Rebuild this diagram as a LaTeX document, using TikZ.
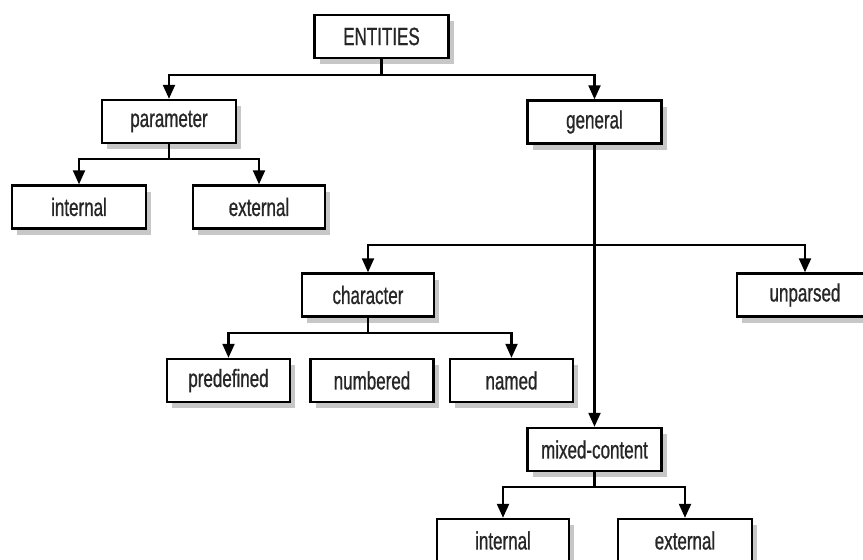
\documentclass[tikz,border=0pt]{standalone}
\usepackage{fontspec}
\setmainfont[FakeStretch=0.68, FakeBold=0.8]{Liberation Sans}
\usetikzlibrary{arrows.meta}
\usetikzlibrary{shadows}

\begin{document}
\begin{tikzpicture}[x=1pt, y=-1pt, ->, >={Triangle[length=14pt, width=12pt]}, line width=2.2pt,
  entbox/.style={rectangle, draw, fill=white, line width=2.4pt, minimum height=43pt, minimum width=134pt, inner sep=0pt,
    drop shadow={shadow xshift=5pt, shadow yshift=-6pt, fill=black, opacity=0.22}},
  smallbox/.style={entbox, minimum width=123pt},
  every node/.style={font=\fontsize{25}{28}\selectfont, text=black!85}]

  \useasboundingbox (0,0) rectangle (863,560);

  \node[entbox] (entities) at (381.5,36.5) {ENTITIES};
  \node[entbox] (param) at (169,121.5) {parameter};
  \node[entbox] (general) at (594.5,122) {general};
  \node[entbox] (pint) at (79,207) {internal};
  \node[entbox, minimum width=132pt] (pext) at (259,207) {external};
  \node[entbox, minimum width=132pt] (character) at (368,295) {character};
  \node[entbox, minimum width=136pt] (unparsed) at (805,295) {unparsed};
  \node[smallbox] (predef) at (228.5,380.5) {predefined};
  \node[smallbox] (numbered) at (372,380.5) {numbered};
  \node[smallbox] (named) at (511.5,380.5) {named};
  \node[entbox] (mixed) at (594.5,449.5) {mixed-content};
  \node[entbox, minimum width=132pt] (mint) at (503,540.5) {internal};
  \node[entbox] (mext) at (685,540.5) {external};

  % branch points
  \coordinate (b0) at (381.5,75);
  \coordinate (b1) at (169,159);
  \coordinate (b2) at (594.5,245);
  \coordinate (b3) at (368,333);
  \coordinate (b4) at (594.5,487);

  \draw[-] (entities.south) -- (b0);
  \draw (b0) -| (param.north);
  \draw (b0) -| (general.north);
  \draw[-] (param.south) -- (b1);
  \draw (b1) -| (pint.north);
  \draw (b1) -| (pext.north);
  \draw (general.south) -- (mixed.north);
  \draw (b2) -| (character.north);
  \draw (b2) -| (unparsed.north);
  \draw[-] (character.south) -- (b3);
  \draw (b3) -| (predef.north);
  \draw (b3) -| (named.north);
  \draw[-] (mixed.south) -- (b4);
  \draw (b4) -| (mint.north);
  \draw (b4) -| (mext.north);
\end{tikzpicture}
\end{document}
